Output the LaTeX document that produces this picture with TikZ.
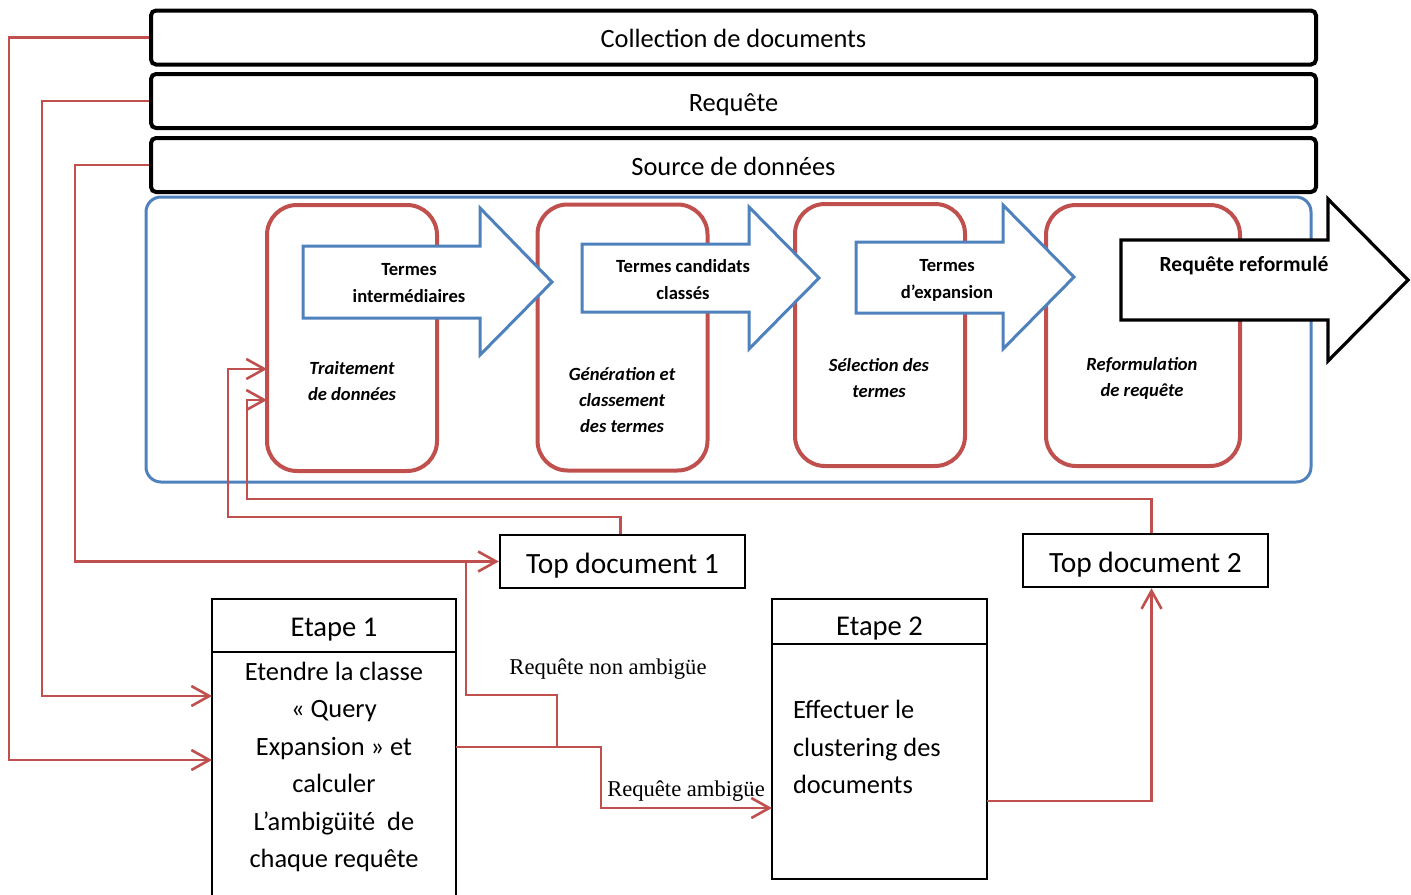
\documentclass[tikz,border=0pt]{standalone}
\usepackage{fontspec}
\setmainfont{Carlito}
\newfontfamily\labelfont{Liberation Serif}
\usetikzlibrary{positioning,arrows.meta}
\definecolor{qred}{HTML}{C0504D}
\definecolor{qblue}{HTML}{4F81BD}

\tikzset{
  inbox/.style={draw, line width=2pt, rounded corners=2.5pt, minimum width=582.5pt,
    minimum height=27pt, inner sep=1pt, text height=10.5pt, text depth=0.3pt,
    font=\fontsize{13.2}{15}\selectfont},
  container/.style={draw=qblue, line width=1.5pt, rounded corners=7.5pt},
  phase/.style={draw=qred, line width=2pt, rounded corners=15pt, minimum width=85pt,
    minimum height=133pt},
  phaselabel/.style={font=\bfseries\itshape\fontsize{9.3}{13}\selectfont, align=center},
  flowarrow/.style={draw=qblue, fill=white, line width=1.5pt, line join=miter},
  outarrow/.style={draw=black, fill=white, line width=1.6pt, line join=miter},
  arrowlabel/.style={font=\bfseries\fontsize{9.3}{13.5}\selectfont, align=center},
  topdoc/.style={draw, line width=1.2pt, minimum width=122.5pt, minimum height=26.5pt,
    inner sep=1pt, text height=12.7pt, text depth=0.3pt, font=\fontsize{14.7}{17}\selectfont},
  stephead/.style={draw, line width=1.2pt, outer sep=0pt, inner sep=1pt,
    text height=11.7pt, text depth=0.3pt, font=\fontsize{14.3}{16}\selectfont},
  stepbody/.style={draw, line width=1.2pt, outer sep=0pt},
  steptext/.style={font=\fontsize{13.2}{18.75}\selectfont},
  link/.style={draw=qred, line width=1.3pt},
  linkto/.style={link, -{Straight Barb[length=9pt,width=10pt]}},
  condlabel/.style={font=\labelfont\fontsize{11.3}{13}\selectfont}
}

\begin{document}
\begin{tikzpicture}[x=0.5pt,y=-0.5pt]
\useasboundingbox (0,0) rectangle (1411,894);

% bandeaux du haut
\node[inbox] (coll) at (733.5,37.5) {Collection de documents};
\node[inbox] (req) at (733.5,101) {Requête};
\node[inbox] (src) at (733.5,165) {Source de données};

% cadre bleu et les quatre phases
\node[container, minimum width=582.5pt, minimum height=142.5pt] (proc) at (728.5,339.5) {};
\node[phase] (trait) at (352,338) {};
\node[phase] (gen) at (622.5,337.5) {};
\node[phase, minimum height=131pt] (sel) at (880,335) {};
\node[phase, minimum width=97pt, minimum height=130.5pt] (reform) at (1143,335.5) {};

\node[phaselabel] (traitlbl) at (352,381) {Traitement\\de données};
\node[phaselabel] (genlbl) at (622,400) {Génération et\\classement\\des termes};
\node[phaselabel] (sellbl) at (879,378) {Sélection des\\termes};
\node[phaselabel] (reformlbl) at (1142,378) {Reformulation\\de requête};

% flèches entre les phases
\draw[flowarrow] (303,246) -- (480,246) -- (480,208) -- (552,282) -- (480,355) -- (480,318) -- (303,318) -- cycle;
\draw[flowarrow] (582,244) -- (749,244) -- (749,207) -- (819,278) -- (749,349) -- (749,312) -- (582,312) -- cycle;
\draw[flowarrow] (856,242) -- (1003,242) -- (1003,205) -- (1074,277) -- (1003,349) -- (1003,313) -- (856,313) -- cycle;
\draw[outarrow] (1121,240) -- (1328,240) -- (1328,199) -- (1408,280) -- (1328,361) -- (1328,320) -- (1121,320) -- cycle;

\node[arrowlabel] (interlbl) at (409,283) {Termes\\intermédiaires};
\node[arrowlabel] (candlbl) at (683,280) {Termes candidats\\classés};
\node[arrowlabel] (expalbl) at (947,280) {Termes\\d’expansion};
\node[arrowlabel, font=\bfseries\fontsize{10.8}{12}\selectfont] (outlbl) at (1244,266) {Requête reformulé};

% partie basse
\node[topdoc] (td1) at (622.5,561.5) {Top document 1};
\node[topdoc] (td2) at (1145.5,560.5) {Top document 2};

\node[stephead, minimum width=122pt, minimum height=26.5pt] (e1head) at (334,625.5) {Etape 1};
\node[stepbody, minimum width=122pt, minimum height=122pt, below=0pt of e1head] (e1body) {};
\node[steptext, align=center] (e1text) at (334,767)
  {Etendre la classe\\« Query\\Expansion » et\\calculer\\L’ambigüité\ \ de\\chaque requête};

\node[stephead, minimum width=107.5pt, minimum height=22.5pt, text height=14.7pt] (e2head) at (879.5,621.5) {Etape 2};
\node[stepbody, minimum width=107.5pt, minimum height=117.5pt, below=0pt of e2head] (e2body) {};
\node[steptext, align=left, anchor=west] (e2text) at (786,747)
  {Effectuer le\\clustering des\\documents};

\node[condlabel] (nonamb) at (608,669) {Requête non ambigüe};
\node[condlabel] (amb) at (686,791) {Requête ambigüe};

% points d'entree et de sortie
\coordinate (trait1) at (267,369);
\coordinate (trait2) at (267,400);
\coordinate (e1in1) at (212,696);
\coordinate (e1in2) at (212,760);
\coordinate (e1out) at (456,747);
\coordinate (fork) at (557,747);
\coordinate (join) at (466,563);
\coordinate (e2in) at (772,808);
\coordinate (e2out) at (987,801);

% liaisons
\draw[linkto] (coll.west) -- ++(-140,0) |- (e1in2);
\draw[linkto] (req.west) -- ++(-107,0) |- (e1in1);
\draw[linkto] (src.west) -- ++(-74,0) |- (td1.west);
\draw[linkto] ([xshift=-1pt]td1.north) |- (228,517) |- (trait1);
\draw[linkto] ([xshift=3pt]td2.north) |- (247,499) |- (trait2);
\draw[linkto] (e1out) -- (601,747) |- (e2in);
\draw[link] (fork) -- ++(0,-52) -| (join);
\draw[linkto] (e2out) -| ([xshift=3pt]td2.south);
\end{tikzpicture}
\end{document}
